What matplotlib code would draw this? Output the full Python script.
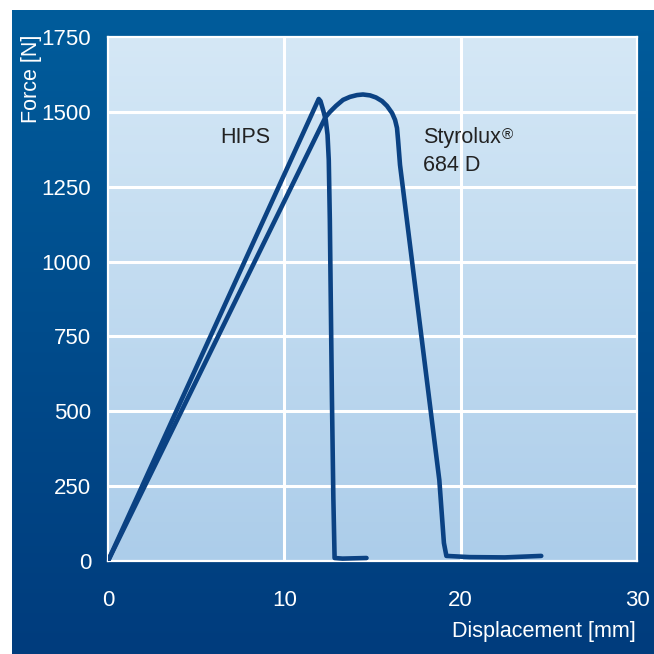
import matplotlib
matplotlib.use("Agg")
import matplotlib.pyplot as plt
import numpy as np

# force-displacement curves
hips_x = [0.0, 11.95, 12.05, 12.2, 12.35, 12.45, 12.52, 12.58, 12.7, 12.78, 12.85, 13.3, 14.66]
hips_y = [0, 1543, 1536, 1506, 1473, 1423, 1339, 1140, 540, 210, 10, 8, 10]

styro_x = [0.0, 12.34, 12.59, 12.93, 13.33, 13.72, 14.12, 14.46, 14.86, 15.20, 15.54, 15.82,
           16.11, 16.28, 16.39, 16.45, 16.56, 18.79, 19.05, 19.19, 20.5, 22.5, 24.57]
styro_y = [0, 1483, 1500, 1520, 1540, 1550, 1556, 1558, 1555, 1548, 1536, 1520,
           1496, 1473, 1446, 1406, 1323, 270, 60, 17, 13, 12, 17]

xticks = [0, 10, 20, 30]
yticks = [0, 250, 500, 750, 1000, 1250, 1500, 1750]

FONT = ["Liberation Sans Narrow", "Liberation Sans", "DejaVu Sans"]
LINE = "#0b4283"


def main():
    W, H = 654, 654
    fig = plt.figure(figsize=(W / 100, H / 100), dpi=100)
    fig.patch.set_facecolor("white")

    # dark blue panel with vertical gradient
    bg = fig.add_axes([12 / W, 0, 1 - 12 / W, 1 - 10 / H])
    bg.axis("off")
    top = np.array([0, 92, 155]) / 255
    bot = np.array([0, 60, 125]) / 255
    t = np.linspace(0, 1, 256)[:, None]
    grad = top[None, :] * (1 - t) + bot[None, :] * t
    bg.imshow(grad[:, None, :], aspect="auto", extent=[0, 1, 0, 1])

    left, right, topp, bottom = 108, 637, 37, 561
    ax = fig.add_axes([left / W, 1 - bottom / H, (right - left) / W, (bottom - topp) / H])
    ax.set_xlim(0, 30)
    ax.set_ylim(0, 1750)

    ptop = np.array([213, 232, 246]) / 255
    pbot = np.array([172, 205, 234]) / 255
    grad2 = ptop[None, :] * (1 - t) + pbot[None, :] * t
    ax.imshow(grad2[:, None, :], aspect="auto", extent=[0, 30, 0, 1750], zorder=0)

    for xv in xticks[1:-1]:
        ax.axvline(xv, color="white", lw=2.2, zorder=1)
    for yv in yticks[1:-1]:
        ax.axhline(yv, color="white", lw=2.2, zorder=1)

    ax.plot(hips_x, hips_y, color=LINE, lw=3.3, zorder=3, solid_joinstyle="round",
            solid_capstyle="round")
    ax.plot(styro_x, styro_y, color=LINE, lw=3.3, zorder=3, solid_joinstyle="round",
            solid_capstyle="round")

    for s in ax.spines.values():
        s.set_color("white")
        s.set_linewidth(1.6)

    ax.set_xticks(xticks)
    ax.set_yticks(yticks)
    ax.tick_params(length=0, colors="white", labelsize=16, pad=12)
    ax.tick_params(axis="x", pad=21)
    for lab in ax.get_xticklabels() + ax.get_yticklabels():
        lab.set_family(FONT)

    fig.text(32 / W, 1 - 35 / H, "Force [N]", rotation=90, ha="center", va="top",
             color="white", fontsize=15.5, family=FONT)
    fig.text(636 / W, 1 - 631 / H, "Displacement [mm]", ha="right", va="center",
             color="white", fontsize=15.5, family=FONT)

    ax.text(7.81, 1416, "HIPS", ha="center", va="center", color="#222222",
            fontsize=15.5, family=FONT, zorder=4)
    st = ax.text(17.89, 1416, "Styrolux", ha="left", va="center", color="#222222",
                 fontsize=15.5, family=FONT, zorder=4)
    ax.annotate("®", xy=(1, 1), xycoords=st, xytext=(0.5, -1), textcoords="offset points",
                ha="left", va="top", color="#222222", fontsize=11, family=FONT)
    ax.text(17.89, 1322, "684 D", ha="left", va="center", color="#222222",
            fontsize=15.5, family=FONT, zorder=4)

    fig.savefig("out.png", dpi=100, facecolor=fig.get_facecolor())


if __name__ == "__main__":
    main()
